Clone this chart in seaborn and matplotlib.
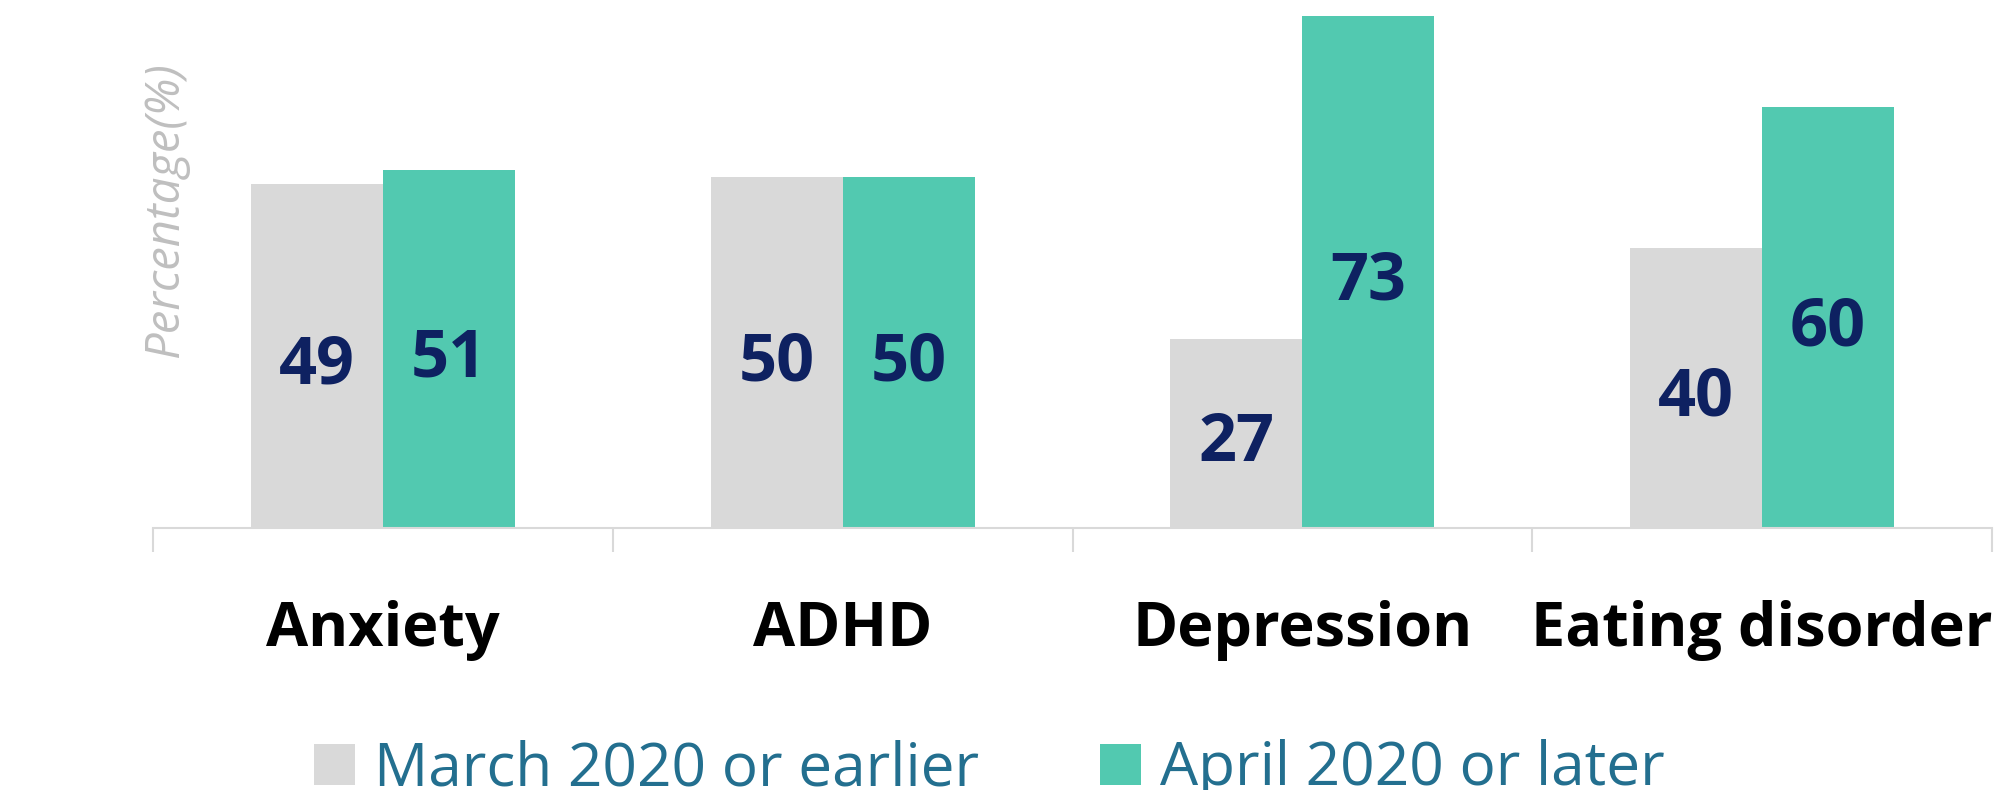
import matplotlib
matplotlib.use("Agg")
import matplotlib.pyplot as plt
import seaborn as sns
import pandas as pd
import numpy as np

categories = ["Anxiety", "ADHD", "Depression", "Eating disorder"]
series_names = ["March 2020 or earlier", "April 2020 or later"]
march_values = [49, 50, 27, 40]
april_values = [51, 50, 73, 60]
ylabel_text = "Percentage(%)"

colors = ["#D9D9D9", "#52C9B0"]
label_color = "#0E2161"
legend_color = "#236F8F"
axis_color = "#D9D9D9"

df = pd.DataFrame({
    "category": categories * 2,
    "period": [series_names[0]] * len(categories) + [series_names[1]] * len(categories),
    "value": march_values + april_values,
})

sns.set_theme(style="white")
plt.rcParams["font.family"] = ["Open Sans", "DejaVu Sans"]

W, H = 2001, 790
fig = plt.figure(figsize=(W / 100, H / 100), dpi=100)
ax = fig.add_axes([153 / W, 1 - 528 / H, (1992 - 153) / W, 528 / H])

sns.barplot(data=df, x="category", y="value", hue="period", order=categories,
            hue_order=series_names, palette=colors, width=0.574, saturation=1,
            linewidth=0, ax=ax, legend=True)

ax.set_ylim(0, 75.3)
ax.set_xlim(-0.5, len(categories) - 0.5)

# value labels
for container in ax.containers:
    for bar in container:
        v = bar.get_height()
        cx = bar.get_x() + bar.get_width() / 2
        ax.annotate(f"{v:.0f}", (cx, v / 2), xytext=(0, -20), textcoords="offset points",
                    ha="center", va="baseline", fontsize=48, fontweight="bold",
                    color=label_color)

# spines and ticks
for s in ["top", "right", "left"]:
    ax.spines[s].set_visible(False)
ax.spines["bottom"].set_color(axis_color)
ax.spines["bottom"].set_linewidth(1.5)
ax.set_yticks([])
ax.set_ylabel("")
ax.set_xlabel("")
ax.set_xticks(range(len(categories)))
ax.set_xticklabels(categories, fontsize=44, fontweight="bold", color="black")
ax.tick_params(axis="x", which="major", length=0, pad=52)
ax.set_xticks(np.arange(-0.5, len(categories), 1.0), minor=True)
ax.tick_params(axis="x", which="minor", length=17, width=1.5, color=axis_color,
               direction="out", bottom=True)

# legend
handles, labels = ax.get_legend_handles_labels()
ax.get_legend().remove()
leg = fig.legend(handles, labels, loc="center", bbox_to_anchor=(0.4945, 0.026),
                 ncol=2, frameon=False, fontsize=43.5, handlelength=0.67,
                 handleheight=0.67, handletextpad=0.32, columnspacing=2.0,
                 borderpad=0, borderaxespad=0)
for t in leg.get_texts():
    t.set_color(legend_color)

fig.text(165 / W, 1 - 210 / H, ylabel_text, rotation=90, ha="center", va="center",
         fontsize=34, fontstyle="italic", color="#BFBFBF")

fig.savefig("out.png", dpi=100)
